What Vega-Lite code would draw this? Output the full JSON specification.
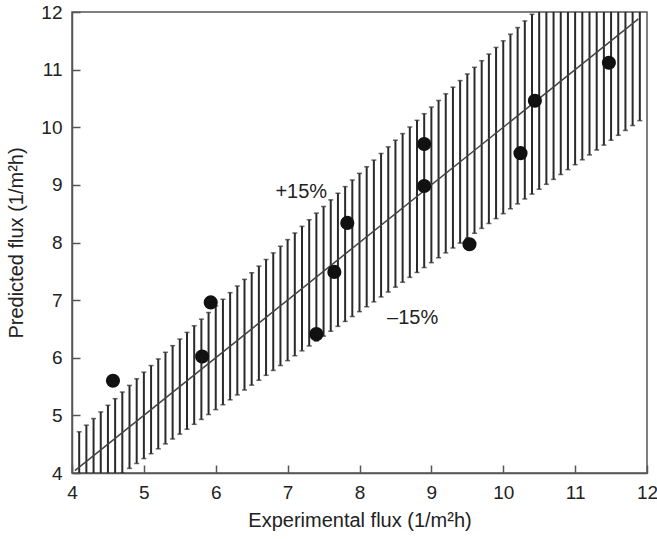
{
  "$schema": "https://vega.github.io/schema/vega-lite/v6.json",
  "autosize": "none",
  "width": 575,
  "height": 461,
  "padding": {"left": 72, "top": 12, "right": 10, "bottom": 66},
  "background": "white",
  "config": {
    "view": {"stroke": "#555", "strokeWidth": 1.5},
    "font": "Liberation Sans",
    "axis": {
      "grid": false,
      "domainColor": "#555",
      "domainWidth": 1.5,
      "tickColor": "#555",
      "tickWidth": 1.5,
      "labelFont": "Liberation Sans",
      "labelFontSize": 19,
      "labelColor": "#222",
      "titleFont": "Liberation Sans",
      "titleFontSize": 20,
      "titleFontWeight": "normal",
      "titleColor": "#222",
      "labelFlush": false,
      "labelOverlap": false
    }
  },
  "datasets": {
    "bars": [
      {"x": 4.1, "lo": 3.485, "hi": 4.715},
      {"x": 4.2, "lo": 3.57, "hi": 4.83},
      {"x": 4.3, "lo": 3.655, "hi": 4.945},
      {"x": 4.4, "lo": 3.74, "hi": 5.06},
      {"x": 4.5, "lo": 3.825, "hi": 5.175},
      {"x": 4.6, "lo": 3.91, "hi": 5.29},
      {"x": 4.7, "lo": 3.995, "hi": 5.405},
      {"x": 4.8, "lo": 4.08, "hi": 5.52},
      {"x": 4.9, "lo": 4.165, "hi": 5.635},
      {"x": 5.0, "lo": 4.25, "hi": 5.75},
      {"x": 5.1, "lo": 4.335, "hi": 5.865},
      {"x": 5.2, "lo": 4.42, "hi": 5.98},
      {"x": 5.3, "lo": 4.505, "hi": 6.095},
      {"x": 5.4, "lo": 4.59, "hi": 6.21},
      {"x": 5.5, "lo": 4.675, "hi": 6.325},
      {"x": 5.6, "lo": 4.76, "hi": 6.44},
      {"x": 5.7, "lo": 4.845, "hi": 6.555},
      {"x": 5.8, "lo": 4.93, "hi": 6.67},
      {"x": 5.9, "lo": 5.015, "hi": 6.785},
      {"x": 6.0, "lo": 5.1, "hi": 6.9},
      {"x": 6.1, "lo": 5.185, "hi": 7.015},
      {"x": 6.2, "lo": 5.27, "hi": 7.13},
      {"x": 6.3, "lo": 5.355, "hi": 7.245},
      {"x": 6.4, "lo": 5.44, "hi": 7.36},
      {"x": 6.5, "lo": 5.525, "hi": 7.475},
      {"x": 6.6, "lo": 5.61, "hi": 7.59},
      {"x": 6.7, "lo": 5.695, "hi": 7.705},
      {"x": 6.8, "lo": 5.78, "hi": 7.82},
      {"x": 6.9, "lo": 5.865, "hi": 7.935},
      {"x": 7.0, "lo": 5.95, "hi": 8.05},
      {"x": 7.1, "lo": 6.035, "hi": 8.165},
      {"x": 7.2, "lo": 6.12, "hi": 8.28},
      {"x": 7.3, "lo": 6.205, "hi": 8.395},
      {"x": 7.4, "lo": 6.29, "hi": 8.51},
      {"x": 7.5, "lo": 6.375, "hi": 8.625},
      {"x": 7.6, "lo": 6.46, "hi": 8.74},
      {"x": 7.7, "lo": 6.545, "hi": 8.855},
      {"x": 7.8, "lo": 6.63, "hi": 8.97},
      {"x": 7.9, "lo": 6.715, "hi": 9.085},
      {"x": 8.0, "lo": 6.8, "hi": 9.2},
      {"x": 8.1, "lo": 6.885, "hi": 9.315},
      {"x": 8.2, "lo": 6.97, "hi": 9.43},
      {"x": 8.3, "lo": 7.055, "hi": 9.545},
      {"x": 8.4, "lo": 7.14, "hi": 9.66},
      {"x": 8.5, "lo": 7.225, "hi": 9.775},
      {"x": 8.6, "lo": 7.31, "hi": 9.89},
      {"x": 8.7, "lo": 7.395, "hi": 10.005},
      {"x": 8.8, "lo": 7.48, "hi": 10.12},
      {"x": 8.9, "lo": 7.565, "hi": 10.235},
      {"x": 9.0, "lo": 7.65, "hi": 10.35},
      {"x": 9.1, "lo": 7.735, "hi": 10.465},
      {"x": 9.2, "lo": 7.82, "hi": 10.58},
      {"x": 9.3, "lo": 7.905, "hi": 10.695},
      {"x": 9.4, "lo": 7.99, "hi": 10.81},
      {"x": 9.5, "lo": 8.075, "hi": 10.925},
      {"x": 9.6, "lo": 8.16, "hi": 11.04},
      {"x": 9.7, "lo": 8.245, "hi": 11.155},
      {"x": 9.8, "lo": 8.33, "hi": 11.27},
      {"x": 9.9, "lo": 8.415, "hi": 11.385},
      {"x": 10.0, "lo": 8.5, "hi": 11.5},
      {"x": 10.1, "lo": 8.585, "hi": 11.615},
      {"x": 10.2, "lo": 8.67, "hi": 11.73},
      {"x": 10.3, "lo": 8.755, "hi": 11.845},
      {"x": 10.4, "lo": 8.84, "hi": 11.96},
      {"x": 10.5, "lo": 8.925, "hi": 12.075},
      {"x": 10.6, "lo": 9.01, "hi": 12.19},
      {"x": 10.7, "lo": 9.095, "hi": 12.305},
      {"x": 10.8, "lo": 9.18, "hi": 12.42},
      {"x": 10.9, "lo": 9.265, "hi": 12.535},
      {"x": 11.0, "lo": 9.35, "hi": 12.65},
      {"x": 11.1, "lo": 9.435, "hi": 12.765},
      {"x": 11.2, "lo": 9.52, "hi": 12.88},
      {"x": 11.3, "lo": 9.605, "hi": 12.995},
      {"x": 11.4, "lo": 9.69, "hi": 13.11},
      {"x": 11.5, "lo": 9.775, "hi": 13.225},
      {"x": 11.6, "lo": 9.86, "hi": 13.34},
      {"x": 11.7, "lo": 9.945, "hi": 13.455},
      {"x": 11.8, "lo": 10.03, "hi": 13.57},
      {"x": 11.9, "lo": 10.115, "hi": 13.685}
    ],
    "points": [
      {"exp": 4.57, "pred": 5.6},
      {"exp": 5.81, "pred": 6.02},
      {"exp": 5.93, "pred": 6.96},
      {"exp": 7.4, "pred": 6.41},
      {"exp": 7.65, "pred": 7.49},
      {"exp": 7.83, "pred": 8.34},
      {"exp": 8.9, "pred": 9.71},
      {"exp": 8.9, "pred": 8.98},
      {"exp": 9.53, "pred": 7.97},
      {"exp": 10.24, "pred": 9.55},
      {"exp": 10.44, "pred": 10.46},
      {"exp": 11.47, "pred": 11.12}
    ],
    "line": [
      {"exp": 4.04, "pred": 4.04},
      {"exp": 11.88, "pred": 11.88}
    ],
    "labels": [
      {"exp": 7.19, "pred": 8.88, "text": "+15%"},
      {"exp": 8.74, "pred": 6.69, "text": "–15%"}
    ]
  },
  "layer": [
    {
      "data": {"name": "bars"},
      "mark": {"type": "rule", "color": "#2a2a2a", "strokeWidth": 2, "clip": true},
      "encoding": {
        "x": {
          "field": "x", "type": "quantitative",
          "scale": {"domain": [4, 12], "nice": false, "zero": false},
          "axis": {
            "title": "Experimental flux (1/m²h)",
            "values": [4, 4.5, 5, 5.5, 6, 6.5, 7, 7.5, 8, 8.5, 9, 9.5, 10, 10.5, 11, 11.5, 12],
            "labelExpr": "datum.value % 1 ? '' : format(datum.value, 'd')",
            "tickSize": {"condition": {"test": "datum.value % 1 !== 0", "value": -5}, "value": -8},
            "labelPadding": 18,
            "titlePadding": 8
          }
        },
        "y": {
          "field": "lo", "type": "quantitative",
          "scale": {"domain": [4, 12], "nice": false, "zero": false},
          "axis": {
            "title": "Predicted flux (1/m²h)",
            "values": [4, 4.5, 5, 5.5, 6, 6.5, 7, 7.5, 8, 8.5, 9, 9.5, 10, 10.5, 11, 11.5, 12],
            "labelExpr": "datum.value % 1 ? '' : format(datum.value, 'd')",
            "tickSize": {"condition": {"test": "datum.value % 1 !== 0", "value": -5}, "value": -8},
            "labelPadding": 18,
            "titlePadding": 14
          }
        },
        "y2": {"field": "hi"}
      }
    },
    {
      "data": {"name": "bars"},
      "mark": {"type": "tick", "orient": "horizontal", "color": "#2a2a2a", "size": 5, "thickness": 1.5, "clip": true},
      "encoding": {
        "x": {"field": "x", "type": "quantitative"},
        "y": {"field": "hi", "type": "quantitative"}
      }
    },
    {
      "data": {"name": "bars"},
      "mark": {"type": "tick", "orient": "horizontal", "color": "#2a2a2a", "size": 5, "thickness": 1.5, "clip": true},
      "encoding": {
        "x": {"field": "x", "type": "quantitative"},
        "y": {"field": "lo", "type": "quantitative"}
      }
    },
    {
      "data": {"name": "line"},
      "mark": {"type": "line", "color": "#444", "strokeWidth": 1.5},
      "encoding": {
        "x": {"field": "exp", "type": "quantitative"},
        "y": {"field": "pred", "type": "quantitative"}
      }
    },
    {
      "data": {"name": "points"},
      "mark": {"type": "circle", "color": "#111", "size": 200, "opacity": 1},
      "encoding": {
        "x": {"field": "exp", "type": "quantitative"},
        "y": {"field": "pred", "type": "quantitative"}
      }
    },
    {
      "data": {"name": "labels"},
      "mark": {"type": "text", "font": "Liberation Sans", "fontSize": 20, "color": "#222"},
      "encoding": {
        "x": {"field": "exp", "type": "quantitative"},
        "y": {"field": "pred", "type": "quantitative"},
        "text": {"field": "text"}
      }
    }
  ]
}
